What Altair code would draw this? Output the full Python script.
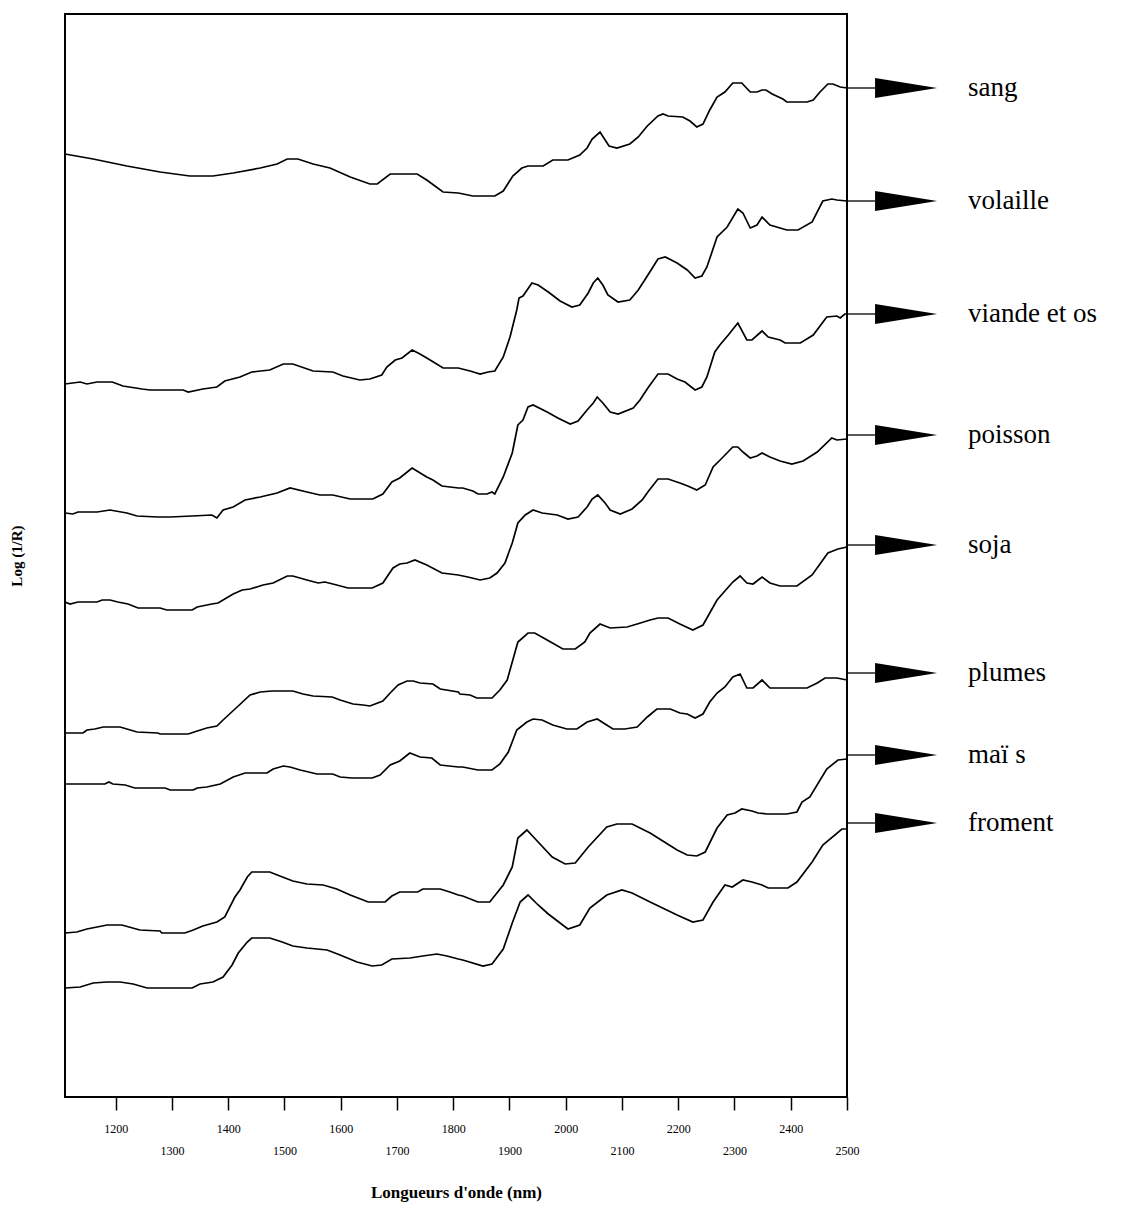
import altair as alt
import pandas as pd

names = ["sang", "volaille", "viande et os", "poisson", "soja", "plumes", "maï s", "froment"]

sang_nm = [1110,1160,1220,1279,1332,1373,1409,1457,1487,1505,1524,1551,1581,1617,1652,1665,1688,1736,1753,1782,1809,1835,1874,1889,1906,1922,1933,1960,1977,2004,2025,2038,2047,2061,2077,2091,2114,2129,2145,2164,2173,2182,2208,2221,2233,2244,2256,2269,2283,2297,2313,2328,2340,2349,2356,2367,2386,2393,2429,2440,2452,2466,2475,2488,2500]
sang_v = [9.43,9.38,9.31,9.25,9.21,9.21,9.24,9.29,9.33,9.38,9.38,9.33,9.29,9.20,9.13,9.13,9.23,9.23,9.17,9.05,9.04,9.01,9.01,9.06,9.21,9.29,9.31,9.31,9.37,9.37,9.42,9.49,9.58,9.65,9.51,9.49,9.53,9.60,9.71,9.81,9.83,9.81,9.80,9.76,9.70,9.73,9.87,10.00,10.05,10.14,10.14,10.05,10.05,10.07,10.07,10.03,9.98,9.95,9.95,9.97,10.05,10.13,10.13,10.10,10.09]

vol_nm = [1110,1137,1149,1167,1194,1213,1247,1261,1320,1329,1355,1380,1394,1421,1442,1474,1498,1515,1551,1586,1604,1634,1652,1673,1682,1697,1709,1727,1741,1759,1782,1809,1830,1848,1862,1874,1889,1901,1913,1917,1924,1940,1951,1969,1990,2011,2025,2040,2049,2057,2066,2075,2093,2114,2129,2145,2164,2177,2198,2216,2230,2242,2251,2269,2287,2306,2315,2328,2340,2349,2363,2381,2393,2413,2438,2457,2473,2482,2500]
vol_v = [7.13,7.15,7.13,7.15,7.15,7.11,7.08,7.07,7.07,7.05,7.08,7.10,7.16,7.20,7.25,7.27,7.33,7.33,7.26,7.25,7.21,7.17,7.18,7.22,7.30,7.37,7.39,7.47,7.43,7.37,7.29,7.29,7.26,7.23,7.25,7.26,7.40,7.60,7.87,7.99,8.01,8.14,8.12,8.05,7.96,7.90,7.92,8.04,8.14,8.19,8.12,8.02,7.95,7.97,8.07,8.21,8.38,8.40,8.34,8.27,8.19,8.21,8.30,8.60,8.70,8.88,8.84,8.69,8.72,8.80,8.72,8.69,8.67,8.67,8.75,8.96,8.98,8.97,8.96]

via_nm = [1110,1124,1133,1167,1190,1220,1238,1275,1297,1336,1371,1380,1391,1409,1430,1457,1487,1510,1540,1563,1586,1617,1657,1675,1691,1705,1727,1753,1764,1780,1809,1817,1835,1844,1860,1869,1874,1889,1905,1915,1924,1933,1942,1967,1986,2008,2022,2038,2049,2056,2066,2079,2093,2120,2132,2146,2164,2182,2198,2212,2230,2242,2251,2265,2274,2289,2306,2322,2331,2349,2360,2381,2390,2417,2440,2464,2482,2488,2496,2500]
via_v = [5.84,5.83,5.85,5.85,5.87,5.84,5.81,5.80,5.80,5.81,5.82,5.79,5.87,5.90,5.97,6.00,6.04,6.09,6.05,6.02,6.02,5.98,5.98,6.03,6.15,6.19,6.29,6.20,6.17,6.11,6.09,6.09,6.06,6.03,6.03,6.05,6.03,6.20,6.44,6.72,6.77,6.90,6.92,6.85,6.79,6.73,6.76,6.87,6.94,7.00,6.94,6.85,6.83,6.89,6.97,7.09,7.23,7.23,7.18,7.15,7.07,7.10,7.20,7.45,7.52,7.62,7.74,7.57,7.57,7.66,7.60,7.57,7.54,7.54,7.62,7.80,7.81,7.79,7.83,7.83]

poi_nm = [1110,1119,1133,1167,1176,1190,1204,1222,1240,1279,1291,1336,1345,1371,1382,1409,1425,1439,1462,1480,1505,1515,1540,1560,1572,1593,1613,1656,1675,1693,1705,1718,1732,1753,1780,1809,1826,1848,1865,1878,1892,1905,1915,1928,1942,1958,1985,2004,2022,2038,2047,2057,2070,2079,2097,2118,2136,2146,2164,2182,2203,2217,2233,2248,2262,2278,2297,2306,2315,2328,2340,2349,2363,2381,2402,2422,2447,2473,2482,2500]
poi_v = [4.95,4.93,4.95,4.95,4.97,4.97,4.95,4.93,4.89,4.89,4.87,4.87,4.90,4.93,4.94,5.03,5.07,5.08,5.12,5.14,5.21,5.21,5.17,5.14,5.15,5.12,5.09,5.09,5.14,5.29,5.33,5.34,5.37,5.32,5.24,5.22,5.20,5.17,5.19,5.24,5.34,5.54,5.74,5.82,5.87,5.84,5.82,5.78,5.80,5.90,5.98,6.02,5.94,5.87,5.83,5.88,5.97,6.05,6.18,6.18,6.14,6.11,6.07,6.12,6.30,6.39,6.50,6.50,6.45,6.39,6.41,6.44,6.40,6.36,6.33,6.36,6.45,6.59,6.57,6.58]

soj_nm = [1110,1142,1149,1163,1178,1208,1238,1275,1279,1329,1345,1362,1380,1391,1416,1439,1457,1478,1515,1533,1551,1585,1599,1622,1640,1652,1675,1688,1702,1718,1729,1741,1764,1777,1809,1812,1830,1842,1869,1883,1896,1905,1915,1933,1945,1967,1995,2017,2034,2043,2061,2079,2109,2127,2150,2164,2182,2203,2226,2244,2269,2297,2310,2322,2333,2349,2363,2381,2411,2438,2466,2484,2500]
soj_v = [3.64,3.64,3.67,3.68,3.70,3.70,3.65,3.64,3.63,3.63,3.66,3.69,3.71,3.77,3.90,4.02,4.05,4.06,4.06,4.03,4.01,4.00,3.97,3.93,3.92,3.91,3.96,4.04,4.12,4.16,4.16,4.14,4.13,4.08,4.05,4.03,4.02,3.99,3.99,4.07,4.17,4.35,4.55,4.64,4.64,4.57,4.48,4.48,4.55,4.64,4.73,4.69,4.70,4.73,4.77,4.79,4.79,4.73,4.67,4.72,4.97,5.15,5.21,5.14,5.13,5.20,5.14,5.11,5.11,5.22,5.44,5.48,5.50]

plu_nm = [1110,1181,1188,1195,1217,1234,1288,1297,1338,1345,1362,1386,1409,1430,1469,1480,1498,1510,1528,1558,1586,1599,1620,1656,1670,1688,1705,1723,1741,1762,1777,1809,1817,1844,1869,1883,1898,1913,1931,1942,1958,1977,2002,2020,2038,2056,2070,2084,2105,2127,2145,2162,2186,2203,2216,2230,2244,2256,2269,2283,2297,2310,2322,2333,2349,2363,2429,2447,2461,2482,2500]
plu_v = [3.13,3.13,3.15,3.13,3.12,3.09,3.09,3.07,3.07,3.09,3.10,3.13,3.20,3.24,3.24,3.28,3.31,3.30,3.27,3.23,3.23,3.20,3.19,3.19,3.22,3.32,3.36,3.44,3.40,3.39,3.32,3.30,3.30,3.27,3.27,3.33,3.45,3.67,3.75,3.78,3.77,3.72,3.68,3.68,3.75,3.78,3.73,3.68,3.68,3.70,3.80,3.88,3.88,3.84,3.83,3.79,3.83,3.95,4.04,4.10,4.20,4.23,4.09,4.09,4.17,4.09,4.09,4.14,4.19,4.19,4.17]

mai_nm = [1110,1131,1149,1167,1185,1211,1243,1279,1282,1323,1338,1355,1380,1394,1412,1421,1434,1442,1474,1492,1515,1540,1569,1593,1617,1649,1679,1691,1705,1737,1746,1777,1794,1809,1817,1844,1865,1889,1905,1915,1931,1951,1976,1999,2017,2040,2073,2091,2118,2150,2198,2216,2233,2248,2269,2287,2301,2313,2331,2342,2358,2393,2411,2420,2434,2464,2484,2500]
mai_v = [1.64,1.65,1.68,1.70,1.72,1.72,1.67,1.66,1.64,1.64,1.67,1.71,1.75,1.80,2.00,2.07,2.20,2.25,2.25,2.21,2.16,2.13,2.12,2.08,2.02,1.95,1.95,2.01,2.05,2.05,2.08,2.08,2.05,2.02,2.01,1.95,1.95,2.12,2.30,2.59,2.67,2.55,2.40,2.33,2.34,2.50,2.70,2.73,2.73,2.64,2.47,2.42,2.41,2.45,2.69,2.82,2.84,2.88,2.86,2.84,2.83,2.83,2.85,2.95,3.00,3.28,3.37,3.38]

fro_nm = [1110,1137,1160,1185,1208,1231,1256,1336,1350,1373,1391,1407,1418,1434,1442,1474,1496,1515,1540,1576,1599,1629,1656,1673,1691,1723,1746,1771,1789,1809,1817,1853,1869,1889,1905,1919,1933,1951,1969,2004,2025,2043,2073,2100,2118,2150,2198,2226,2244,2262,2283,2296,2315,2331,2349,2360,2395,2411,2438,2457,2491,2500]
fro_v = [1.09,1.10,1.14,1.15,1.15,1.13,1.09,1.09,1.13,1.15,1.20,1.32,1.44,1.55,1.59,1.59,1.55,1.51,1.49,1.47,1.42,1.35,1.31,1.32,1.38,1.39,1.41,1.43,1.41,1.38,1.37,1.31,1.33,1.48,1.74,1.95,2.02,1.92,1.83,1.68,1.72,1.89,2.02,2.07,2.04,1.95,1.82,1.75,1.77,1.95,2.12,2.10,2.17,2.15,2.12,2.09,2.09,2.15,2.35,2.52,2.68,2.68]

label_v = [10.09, 8.96, 7.83, 6.62, 5.52, 4.24, 3.42, 2.74]

tick_values = [1200,1300,1400,1500,1600,1700,1800,1900,2000,2100,2200,2300,2400,2500]

series = [(sang_nm, sang_v), (vol_nm, vol_v), (via_nm, via_v), (poi_nm, poi_v),
          (soj_nm, soj_v), (plu_nm, plu_v), (mai_nm, mai_v), (fro_nm, fro_v)]

rows = []
for name, (xs, ys) in zip(names, series):
    for i, (a, b) in enumerate(zip(xs, ys)):
        rows.append({"produit": name, "nm": a, "v": b, "i": i})
df = pd.DataFrame(rows)

lab = pd.DataFrame({"produit": names, "v": label_v})

# annotation anchor positions (in nm, outside the plotted range)
X_EDGE, X_ARROW_START, X_ARROW_C, X_TEXT = 2500, 2550, 2605, 2715

FONT = "Liberation Serif"

xscale = alt.Scale(domain=[1110, 2500], nice=False, zero=False)
yscale = alt.Scale(domain=[0, 10.83], nice=False, zero=False)

xaxis = alt.Axis(
    title="Longueurs d'onde (nm)", values=tick_values, format="d",
    domain=False, grid=False, ticks=True, tickSize=13, tickWidth=1.5, tickColor="black",
    labelFont=FONT, labelFontSize=12, labelColor="black",
    labelPadding={"condition": {"test": "datum.value % 200 === 0", "value": 13}, "value": 35},
    labelFlush=False, labelOverlap=False,
    titleFont=FONT, titleFontSize=17, titleFontWeight="bold", titleColor="black",
    titleBaseline="middle", titleY=95,
)
yaxis = alt.Axis(
    title="Log (1/R)", labels=False, ticks=False, domain=False, grid=False,
    titleFont=FONT, titleFontSize=15, titleFontWeight="bold", titleColor="black",
    titlePadding=41,
)

lines = alt.Chart(df).mark_line(color="black", strokeWidth=1.7).encode(
    x=alt.X("nm:Q", scale=xscale, axis=xaxis),
    y=alt.Y("v:Q", scale=yscale, axis=yaxis),
    detail="produit:N",
    order="i:Q",
)

base = alt.Chart(lab)
stems = base.mark_rule(color="black", strokeWidth=1.3, clip=False).encode(
    x=alt.datum(X_EDGE, scale=xscale), x2=alt.datum(X_ARROW_START),
    y=alt.Y("v:Q", scale=yscale),
)
heads = base.mark_point(
    shape="M -1 -0.32 L 1 0 L -1 0.32 Z", filled=True, size=3844,
    color="black", opacity=1, strokeWidth=0, clip=False,
).encode(
    x=alt.datum(X_ARROW_C, scale=xscale),
    y=alt.Y("v:Q", scale=yscale),
)
texts = base.mark_text(
    align="left", baseline="middle", font=FONT, fontSize=27, color="black", clip=False,
).encode(
    x=alt.datum(X_TEXT, scale=xscale),
    y=alt.Y("v:Q", scale=yscale),
    text="produit:N",
)

chart = alt.layer(lines, stems, heads, texts).properties(
    width=782, height=1083,
    autosize=alt.AutoSizeParams(type="none"),
    padding={"left": 65, "top": 14, "right": 276, "bottom": 135},
    background="white",
).configure_view(stroke="black", strokeWidth=2)

chart.save("out.html", embed_options={"renderer": "svg", "actions": False})
